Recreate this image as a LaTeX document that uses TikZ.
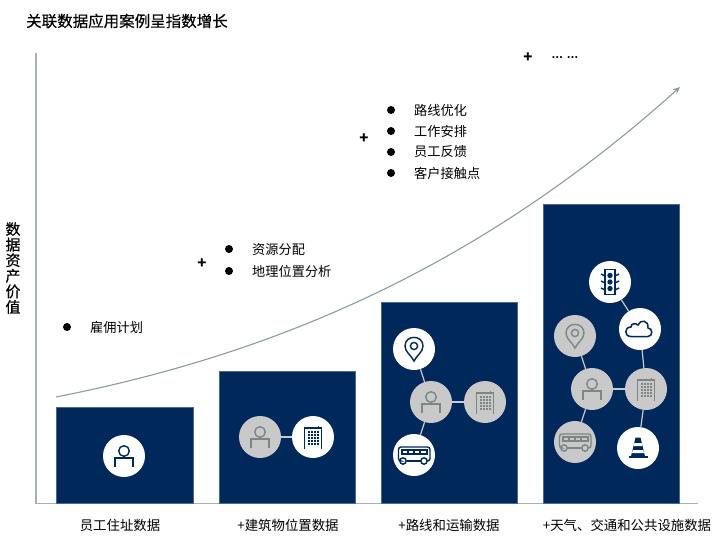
\documentclass[tikz,border=0pt]{standalone}
\usepackage{fontspec}
\setmainfont{Noto Sans CJK SC}
\newfontfamily\headfont[FakeBold=0.4]{Noto Sans CJK SC}
\usetikzlibrary{arrows.meta}
\definecolor{barnavy}{HTML}{00285A}
\definecolor{circlegray}{HTML}{C9C9C9}
\definecolor{icongray}{HTML}{7C8785}
\definecolor{axisgray}{HTML}{A9B1AF}
\definecolor{curvegray}{HTML}{8D9C98}
\definecolor{linkgray}{HTML}{C4CCD0}
\tikzset{
  barbox/.style={draw=barnavy!70!white, fill=barnavy, line width=0.5pt, minimum width=136.5pt, inner sep=0pt},
  circleon/.style={circle, fill=white, minimum size=42pt, inner sep=0pt},
  circleoff/.style={circle, fill=circlegray, minimum size=42pt, inner sep=0pt},
  link/.style={draw=linkgray, line width=1.2pt},
  bulletdot/.style={circle, fill=black, minimum size=8pt, inner sep=0pt},
  itemlabel/.style={anchor=west, inner sep=0pt, font=\fontsize{13.2}{15}\selectfont},
  ticklabel/.style={inner sep=0pt, font=\fontsize{13.4}{15}\selectfont},
  pluslabel/.style={inner sep=0pt, font=\fontsize{15}{15}\selectfont\bfseries},
  usericon/.pic={
    \draw[line width=1.4pt] (0,-5) circle (5.3pt);
    \draw[line width=1.4pt] (-9,11) -- (-9,2) -- (9,2) -- (9,11);
  },
  buildingicon/.pic={
    \draw[line width=1.4pt] (-8.3,12) -- (-8.3,-9) -- (5.5,-9) -- (5.5,-11.5) (5.5,-9) -- (8.3,-9) -- (8.3,12);
    \foreach \i in {-5.5,-2.5,0.5,3.5} \foreach \j in {-6.5,-3.5,-0.5,2.5,5.5}
      \fill (\i,\j) rectangle +(2,2);
  },
  locationicon/.pic={
    \draw[line width=1.4pt] (0,12) .. controls (-3,6) and (-9,3) .. (-9,-3) .. controls (-9,-14.5) and (9,-14.5) .. (9,-3) .. controls (9,3) and (3,6) .. (0,12) -- cycle;
    \draw[line width=1.4pt] (0,-3) circle (3.6pt);
  },
  busicon/.pic={
    \draw[line width=1.4pt, rounded corners=2.5pt] (-14.5,6) -- (-15.5,6) -- (-15.5,-8) -- (16,-8) -- (16,6) -- (13.5,6);
    \draw[line width=1.4pt] (-7.5,6) -- (6.5,6);
    \draw[line width=1.1pt] (-12,-5) rectangle (13,-1);
    \foreach \i in {-6,0,6} \draw[line width=1.1pt] (\i,-5) -- (\i,-1);
    \draw[line width=1.4pt] (-11,6) circle (3.2pt) (10,6) circle (3.2pt);
  },
  lighticon/.pic={
    \draw[line width=1.4pt] (-5,-12.5) rectangle (5,12.5);
    \fill (0,-6.5) circle (2.7pt) (0,0) circle (2.7pt) (0,6.5) circle (2.7pt);
    \foreach \j in {-8,-1,6} {
      \draw[line width=1.4pt] (-5,\j+2) -- (-9,\j) (5,\j+2) -- (9,\j);
    }
  },
  cloudicon/.pic={
    \draw[line width=1.5pt] (-9,7.5) .. controls (-16,7.5) and (-16,-2) .. (-9,-2) .. controls (-9,-6) and (-4,-6) .. (-2,-4) .. controls (0,-10) and (9,-9) .. (8,-1) .. controls (13,-1) and (13,7.5) .. (8,7.5) -- cycle;
  },
  coneicon/.pic={
    \draw[line width=1.4pt] (-9.5,9) -- (9.5,9);
    \fill (-7,8.5) -- (-2.5,-10.5) -- (2.5,-10.5) -- (7,8.5) -- cycle;
    \fill[white] (-3.6,-5) -- (3.6,-5) -- (4.4,-2) -- (-4.4,-2) -- cycle;
    \fill[white] (-5.2,2) -- (5.2,2) -- (6,5) -- (-6,5) -- cycle;
  }
}
\begin{document}
\begin{tikzpicture}[x=1pt,y=-1pt]
\useasboundingbox (0,0) rectangle (720,544);

\node[anchor=west, inner sep=0pt, font=\fontsize{15.5}{18}\selectfont\headfont] (title) at (26,21) {关联数据应用案例呈指数增长};
\node[align=center, inner sep=0pt, font=\fontsize{15}{15.6}\selectfont\headfont] (ylabel) at (13,268) {数\\据\\资\\产\\价\\值};

% axes
\coordinate (axistop) at (36,53);
\coordinate (origin) at (36,503.5);
\coordinate (axisend) at (698,503.5);
\draw[axisgray, line width=1.2pt] (axistop) -- (origin) -- (axisend);

% bars
\node[barbox, minimum height=96pt] (bara) at (124.5,455) {};
\node[barbox, minimum height=132pt] (barb) at (287,437) {};
\node[barbox, minimum height=201pt] (barc) at (449,402.5) {};
\node[barbox, minimum height=299pt] (bard) at (611,353.5) {};

% growth curve
\coordinate (curvestart) at (56,397);
\coordinate (curveend) at (680,87);
\draw[curvegray, line width=1.1pt, -{Stealth[length=7pt,width=6pt]}] (curvestart) .. controls (264,356) and (472,274) .. (curveend);

% circles of the first bar
\node[circleon] (usera) at (124,456) {};
\pic[barnavy] at (usera) {usericon};

% circles of the second bar
\node[circleoff] (userb) at (260,437) {};
\node[circleon] (buildb) at (313,437) {};
\draw[link] (userb) -- (buildb);
\pic[icongray] at (userb) {usericon};
\pic[barnavy] at (buildb) {buildingicon};

% circles of the third bar
\node[circleon] (locc) at (414,349) {};
\node[circleoff] (userc) at (431,402) {};
\node[circleoff] (buildc) at (485,402) {};
\node[circleon] (busc) at (414,455) {};
\draw[link] (locc) -- (userc);
\draw[link] (userc) -- (buildc);
\draw[link] (userc) -- (busc);
\pic[barnavy] at (locc) {locationicon};
\pic[icongray] at (userc) {usericon};
\pic[icongray] at (buildc) {buildingicon};
\pic[barnavy] at (busc) {busicon};

% circles of the fourth bar
\node[circleon] (lightd) at (610,282) {};
\node[circleon] (cloudd) at (640,329) {};
\node[circleoff] (locd) at (575,336) {};
\node[circleoff] (userd) at (592,389) {};
\node[circleoff] (buildd) at (646,389) {};
\node[circleoff] (busd) at (575,442) {};
\node[circleon] (coned) at (638,448) {};
\draw[link] (lightd) -- (cloudd);
\draw[link] (cloudd) -- (buildd);
\draw[link] (locd) -- (userd);
\draw[link] (userd) -- (buildd);
\draw[link] (userd) -- (busd);
\draw[link] (buildd) -- (coned);
\pic[barnavy] at (lightd) {lighticon};
\pic[barnavy] at (cloudd) {cloudicon};
\pic[icongray] at (locd) {locationicon};
\pic[icongray] at (userd) {usericon};
\pic[icongray] at (buildd) {buildingicon};
\pic[icongray] at (busd) {busicon};
\pic[barnavy] at (coned) {coneicon};

% bullets
\node[bulletdot] (dota) at (67,327) {};
\node[itemlabel] (hire) at (90,327.5) {雇佣计划};

\node[pluslabel] (plusb) at (202,264) {+};
\node[bulletdot] (dotb) at (229,249) {};
\node[itemlabel] (resource) at (252,249.5) {资源分配};
\node[bulletdot] (dotbb) at (229,271) {};
\node[itemlabel] (geo) at (252,271.5) {地理位置分析};

\node[pluslabel] (plusc) at (364,138.5) {+};
\node[bulletdot] (dotc) at (391,110) {};
\node[itemlabel] (route) at (414,110) {路线优化};
\node[bulletdot] (dotcb) at (391,131) {};
\node[itemlabel] (work) at (414,131) {工作安排};
\node[bulletdot] (dotcc) at (391,152) {};
\node[itemlabel] (staff) at (414,152) {员工反馈};
\node[bulletdot] (dotcd) at (391,173) {};
\node[itemlabel] (client) at (414,173) {客户接触点};

\node[pluslabel] (plusd) at (528,58) {+};
\node[anchor=west, inner sep=0pt, font=\fontsize{10}{12}\selectfont\bfseries] (more) at (551.5,58) {…\hspace{4pt}…};

% bar labels
\node[ticklabel] (ticka) at (120,525.5) {员工住址数据};
\node[ticklabel] (tickb) at (288,525.5) {+建筑物位置数据};
\node[ticklabel] (tickc) at (449,525.5) {+路线和运输数据};
\node[ticklabel] (tickd) at (627,525.5) {+天气、交通和公共设施数据};
\end{tikzpicture}
\end{document}
